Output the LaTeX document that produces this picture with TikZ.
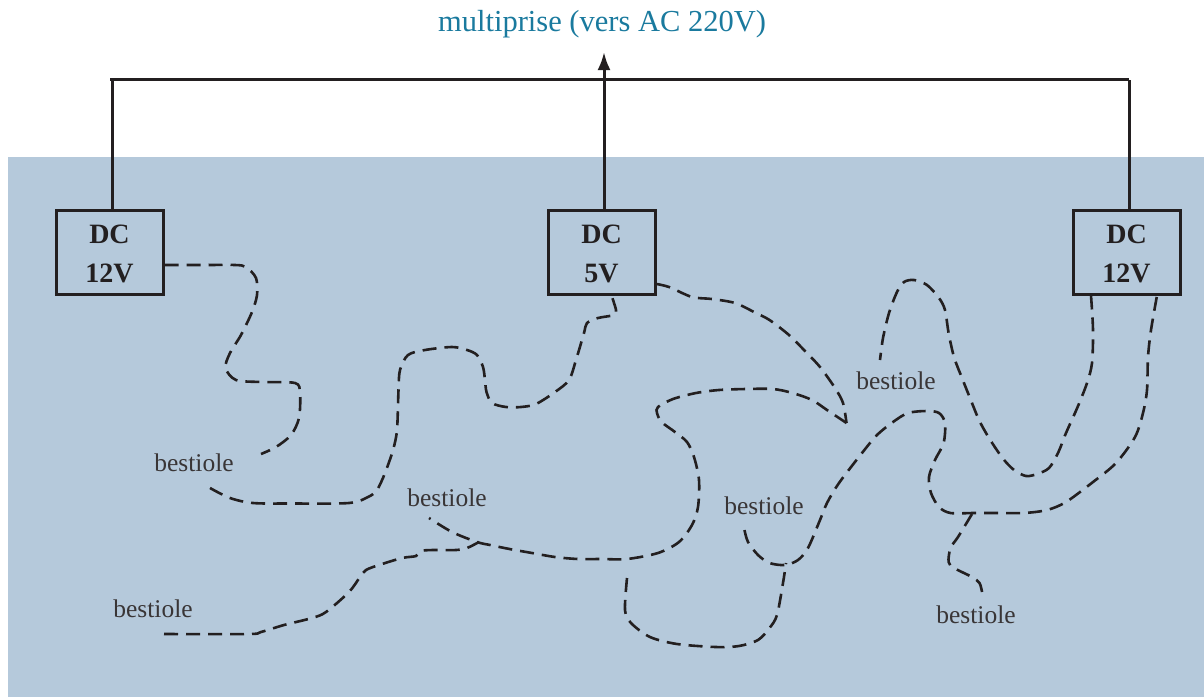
\documentclass[tikz,border=0pt]{standalone}
\usepackage{fontspec}
\setmainfont{Liberation Serif}
\usepackage{tikz}
\usetikzlibrary{arrows.meta}
\definecolor{water}{HTML}{B5C9DB}
\definecolor{ink}{HTML}{231F20}
\definecolor{prisecol}{HTML}{1A7A9E}

\begin{document}
\begin{tikzpicture}[x=1pt, y=-1pt,
    box/.style={draw=ink, line width=3pt, minimum width=107pt, minimum height=84pt, inner sep=0pt, align=center, text=ink, font=\fontsize{28}{39}\selectfont\bfseries},
    bug/.style={text=ink!90, inner sep=0pt, font=\fontsize{25.5}{30}\selectfont},
    power/.style={draw=ink, line width=3pt},
    wire/.style={draw=ink, line width=2.6pt, dash pattern=on 14pt off 8pt, smooth}]
    \useasboundingbox (0,0) rectangle (1204,697);

    % Water
    \fill[water] (8,157) rectangle (1204,697);

    % Transformers
    \node[box] (DCa) at (109.5,252) {\rule{0pt}{23pt}DC\\12V};
    \node[box] (DCb) at (601.5,252) {\rule{0pt}{23pt}DC\\5V};
    \node[box] (DCc) at (1126.5,252) {\rule{0pt}{23pt}DC\\12V};

    % Labels
    \node[text=prisecol, inner sep=0pt, font=\fontsize{30.5}{36}\selectfont] (prise) at (602,24) {multiprise (vers AC 220V)};
    \node[bug] (bugA) at (194,463) {bestiole};
    \node[bug] (bugB) at (447,498) {bestiole};
    \node[bug] (bugC) at (153,609) {bestiole};
    \node[bug] (bugD) at (764,506) {bestiole};
    \node[bug] (bugE) at (896,381) {bestiole};
    \node[bug] (bugF) at (976,615) {bestiole};

    % Power lines
    \coordinate (TL) at (110,79.5);
    \coordinate (TR) at (1129,79.5);
    \coordinate (tip) at (604,52);
    \draw[power] (TL) -- (TR);
    \draw[power] ([xshift=2.5pt]DCa.north) -- ([xshift=2pt]TL);
    \draw[power] ([xshift=2.5pt]DCc.north) -- (TR);
    \draw[power, -{Latex[length=18pt,width=13pt]}] ([xshift=2.5pt]DCb.north) -- (tip);

    % Dashed wire from the 12V box on the left
    \draw[wire] plot[smooth, tension=0.5] coordinates {([yshift=-13pt]DCa.east) (205,265) (235,265) (246,267) (256,278) (257,295) (252,312) (241,335) (230,353) (225.5,368) (236,380) (261,382) (295,383) (300,393) (299,418) (291,435) (276,447) (261,454)};

    % Dashed wires from the 5V box
    \draw[wire] plot[smooth, tension=0.5] coordinates {(210,488) (230,498) (253,503) (291,503.5) (349,503) (368,497) (377,490) (385,473) (393,450) (397,430) (398.5,390) (400,370) (408,355) (425,350) (452,347) (467,350) (477,355) (483,367) (485,380) (486.5,392) (492,403) (506,407) (521,407) (536,404) (555,392) (569,380) (576,360) (584,333) (587,323) (598,318) (614,315) (616,310) ([xshift=10pt]DCb.south)};
    \draw[wire] plot[smooth, tension=0.5] coordinates {([yshift=-32pt]DCb.east) (669,287) (692,297) (712,299) (735,303) (754,312) (769.5,320) (789,335) (804,350) (820,367) (835,388) (843,403) (846.5,423)};
    \draw[wire] plot[smooth, tension=0.5] coordinates {(846.5,423) (827,410) (812,400) (792.6,393) (773,389) (746,389) (719,390) (696,393) (673,399) (658,407) (657,413) (661.6,422) (675,432) (687,442) (694,457) (699,480) (698,507) (692,525) (679,542) (658,553) (627,559) (601,559) (578,559) (555,557) (532,553) (509.5,549) (490,545) (477,542) (452,532) (429,518)};
    \draw[wire] plot[smooth, tension=0.5] coordinates {(164,634) (249,634) (261,632) (284,625) (312,618) (326,612) (349,592) (360,577) (366,570) (379,565) (402,558) (416,556) (421,551) (433,550) (456,550) (467,548) (479,542)};
    \draw[wire] plot[smooth, tension=0.5] coordinates {(627,578) (625,610) (631,623) (650,637) (677,644) (715.6,647) (739,646) (758,640) (769.5,628) (777,615) (783,583) (786,563)};

    % Dashed wires from the 12V box on the right
    \draw[wire] plot[smooth, tension=0.5] coordinates {(744.5,530) (748,542) (758,555) (769.5,563) (785,565) (798,560) (808,548) (820,520) (827,503) (839,483) (862,453) (877,435) (893,422) (908,413) (927,411) (939,413) (945,423) (943.6,443) (935,460) (929,477) (931,493) (939,507) (950.5,513) (974,513) (997,513) (1024,513) (1047,510) (1066,502) (1093,482) (1116,463) (1135,437) (1143,413) (1147,390) (1148,357) (1151,330) ([xshift=30.5pt]DCc.south)};
    \draw[wire] plot[smooth, tension=0.5] coordinates {([xshift=-35.5pt]DCc.south) (1093,330) (1092,363) (1087,383) (1077.6,407) (1066,433) (1058,453) (1049,468) (1037,474) (1026,476) (1014,470) (1002.5,458) (989,438) (979,420) (970,398) (962,378) (954,357) (948.6,333) (945,310) (939,298) (927,285) (914,280) (904,282) (897,292) (889,313) (883,338) (880,360)};
    \draw[wire] plot[smooth, tension=0.5] coordinates {(972,514) (958,537) (950.5,548) (948.6,562) (954,568) (972,577) (979.5,583) (982,592)};
\end{tikzpicture}
\end{document}
